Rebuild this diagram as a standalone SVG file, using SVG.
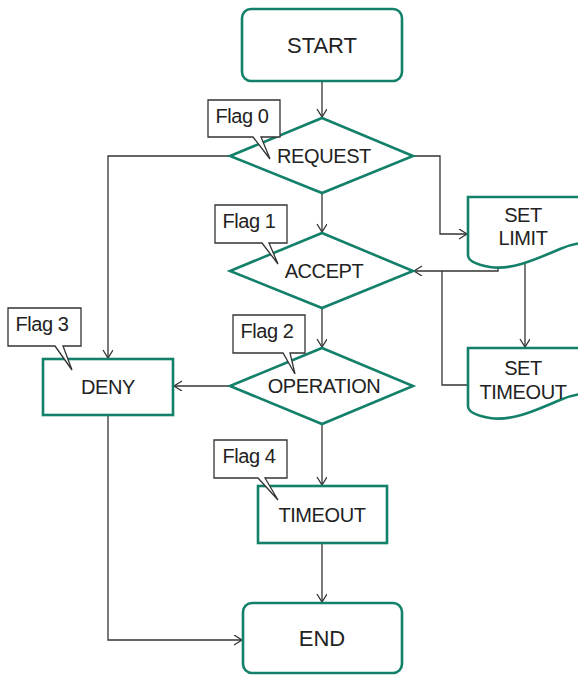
<svg xmlns="http://www.w3.org/2000/svg" width="578" height="675" viewBox="0 0 578 675">
<defs>
<marker id="arr" markerWidth="12" markerHeight="12" refX="9" refY="5" orient="auto" markerUnits="userSpaceOnUse">
<path d="M1,0 L9,5 L1,10" fill="none" stroke="#333" stroke-width="1.3"/>
</marker>
<style>
.n{fill:#fff;stroke:#13806a;stroke-width:2.6}
.c{fill:none;stroke:#333;stroke-width:1.3}
.f{fill:#fff;stroke:#333;stroke-width:1.3}
.t{font-family:"Liberation Sans",Arial,sans-serif;font-size:20px;fill:#222;text-anchor:middle;letter-spacing:-0.4px}
.tb{font-family:"Liberation Sans",Arial,sans-serif;font-size:22px;fill:#222;text-anchor:middle}
</style>
</defs>
<rect width="578" height="675" fill="#fff"/>
<g id="connectors">
<path class="c" d="M322,81 V117" marker-end="url(#arr)"/>
<path class="c" d="M230,156 H108 V358" marker-end="url(#arr)"/>
<path class="c" d="M413,156 H440 V234 H467" marker-end="url(#arr)"/>
<path class="c" d="M322,193 V232" marker-end="url(#arr)"/>
<path class="c" d="M498,266 V271 H414" marker-end="url(#arr)"/>
<path class="c" d="M468,385 H442 V271"/>
<path class="c" d="M525,262 V347" marker-end="url(#arr)"/>
<path class="c" d="M322,308 V347" marker-end="url(#arr)"/>
<path class="c" d="M230,386 H174" marker-end="url(#arr)"/>
<path class="c" d="M322,424 V485" marker-end="url(#arr)"/>
<path class="c" d="M322,543 V602" marker-end="url(#arr)"/>
<path class="c" d="M108,415 V640 H242" marker-end="url(#arr)"/>
</g>
<g id="start">
<rect class="n" x="242" y="9" width="160" height="72" rx="9"/>
<text class="tb" x="322" y="53">START</text>
</g>
<g id="request">
<polygon class="n" points="322,118 413,156 322,193 230,156"/>
<text class="t" x="324" y="163">REQUEST</text>
</g>
<g id="accept">
<polygon class="n" points="322,233 413,271 322,308 230,271"/>
<text class="t" x="324" y="278">ACCEPT</text>
</g>
<g id="operation">
<polygon class="n" points="322,348 413,386 322,424 230,386"/>
<text class="t" x="324" y="393">OPERATION</text>
</g>
<g id="deny">
<rect class="n" x="43" y="359" width="130" height="56"/>
<text class="t" x="108" y="394">DENY</text>
</g>
<g id="timeout">
<rect class="n" x="258" y="486" width="129" height="57"/>
<text class="t" x="322" y="522">TIMEOUT</text>
</g>
<g id="end">
<rect class="n" x="243" y="603" width="159" height="70" rx="9"/>
<text class="tb" x="322" y="646">END</text>
</g>
<g id="setlimit">
<path class="n" d="M468,197 H600 V244 Q580,240 560,249 C530,262 510,270 490,267 C478,265 468,262 468,255 Z"/>
<text class="t" x="523" y="222">SET</text>
<text class="t" x="523" y="245">LIMIT</text>
</g>
<g id="settimeout">
<path class="n" d="M468,348 H600 V395 Q580,391 560,400 C530,413 510,421 490,418 C478,416 468,413 468,406 Z"/>
<text class="t" x="523" y="375">SET</text>
<text class="t" x="523" y="399">TIMEOUT</text>
</g>
<g id="flag0">
<path class="f" d="M208,100 H280 V137 H261 L270,159 L253,137 H208 Z"/>
<text class="t" x="242" y="123">Flag 0</text>
</g>
<g id="flag1">
<path class="f" d="M215,205 H287 V243 H269 L278,264 L262,243 H215 Z"/>
<text class="t" x="249" y="228">Flag 1</text>
</g>
<g id="flag2">
<path class="f" d="M233,315 H305 V353 H290 L295,374 L283,353 H233 Z"/>
<text class="t" x="267" y="338">Flag 2</text>
</g>
<g id="flag3">
<path class="f" d="M8,308 H81 V346 H63 L72,370 L55,346 H8 Z"/>
<text class="t" x="42" y="331">Flag 3</text>
</g>
<g id="flag4">
<path class="f" d="M214,440 H287 V478 H265 L278,500 L258,478 H214 Z"/>
<text class="t" x="249" y="463">Flag 4</text>
</g>
</svg>
